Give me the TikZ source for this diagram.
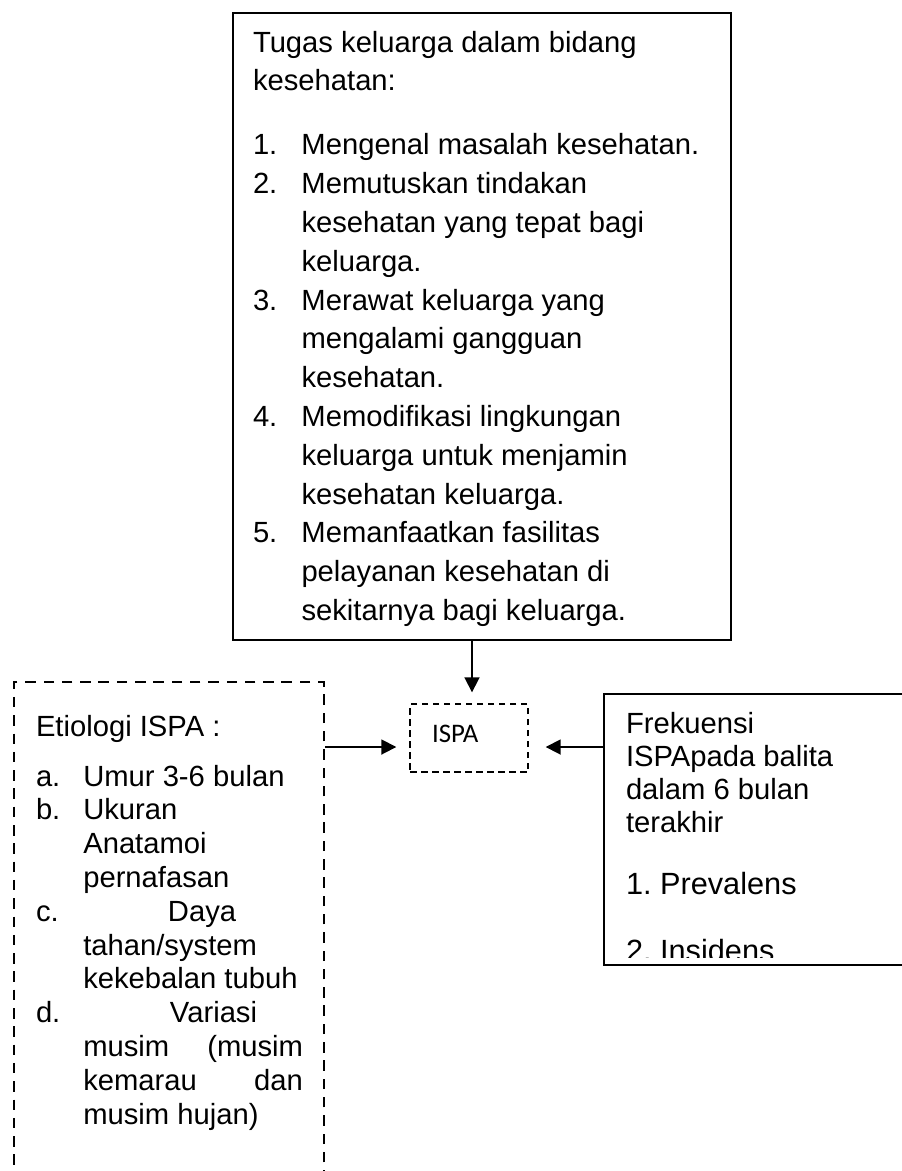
\documentclass[tikz,border=0pt]{standalone}
\usepackage{fontspec}
\setmainfont{Liberation Sans}
\newfontfamily\calibrifont{Carlito}
\usetikzlibrary{arrows.meta}
\frenchspacing
\newcommand\itmrow[2]{\par\hangindent=48.5pt\hangafter=1\noindent\makebox[48.5pt][l]{#1}#2\par}
\newcommand\lrow[2]{\par\noindent\makebox[47.3pt][l]{#1}#2\par}
\begin{document}
\begin{tikzpicture}[x=1pt,y=-1pt,
  solidbox/.style={draw, line width=1.8pt, inner sep=0pt, rectangle},
  dashbox/.style={draw, line width=2pt, dash pattern=on 10.5pt off 7.8pt, inner sep=0pt, rectangle},
  smalldash/.style={draw, line width=1.4pt, dash pattern=on 6.5pt off 4.5pt, inner sep=0pt, rectangle},
  txt/.style={inner sep=0pt, outer sep=0pt, anchor=base west, align=left},
  arr/.style={line width=1.8pt, -{Triangle[length=15pt,width=15pt]}}]
\useasboundingbox (0,0) rectangle (902,1171);
\clip (0,0) rectangle (902,1171);
% boxes
\node[solidbox, minimum width=498pt, minimum height=627pt] (tugas) at (482,326.5) {};
\node[smalldash, minimum width=118pt, minimum height=68pt] (ispa) at (469,738) {};
\node[dashbox, minimum width=310pt, minimum height=518pt] (etio) at (169,941) {};
\node[solidbox, minimum width=326pt, minimum height=271pt] (frek) at (767,829.5) {};
% texts
\node[txt] (tugastxt) at (253,52) {\begin{minipage}[t]{470pt}\fontsize{29.2pt}{38.8pt}\selectfont\raggedright\parskip=0pt\parindent=0pt
Tugas keluarga dalam bidang\\
kesehatan:\par
\vspace{25.2pt}
\itmrow{1.}{Mengenal masalah kesehatan.}
\itmrow{2.}{Memutuskan tindakan\newline kesehatan yang tepat bagi\newline keluarga.}
\itmrow{3.}{Merawat keluarga yang\newline mengalami gangguan\newline kesehatan.}
\itmrow{4.}{Memodifikasi lingkungan\newline keluarga untuk menjamin\newline kesehatan keluarga.}
\itmrow{5.}{Memanfaatkan fasilitas\newline pelayanan kesehatan di\newline sekitarnya bagi keluarga.}
\end{minipage}};
\node[txt] (ispatxt) at (432,742) {\calibrifont\fontsize{26.8pt}{32pt}\selectfont ISPA};
\node[txt] (etiotxt) at (36,736) {\begin{minipage}[t]{280pt}\fontsize{29.2pt}{33.8pt}\selectfont\raggedright\parskip=0pt\parindent=0pt
Etiologi ISPA :\par
\vspace{16.2pt}
\lrow{a.}{Umur 3-6 bulan}
\lrow{b.}{Ukuran}
\lrow{}{Anatamoi}
\lrow{}{pernafasan}
\lrow{c.}{\hspace*{84.7pt}Daya}
\lrow{}{tahan/system}
\lrow{}{kekebalan tubuh}
\lrow{d.}{\hspace*{86.7pt}Variasi}
\lrow{}{\hbox to 219.7pt{musim\hfill(musim}}
\lrow{}{\hbox to 219.7pt{kemarau\hfill dan}}
\lrow{}{musim hujan)}
\end{minipage}};
\begin{scope}
\clip (604,694) rectangle (902,957);
\node[txt] (frektxt) at (626,733) {\begin{minipage}[t]{270pt}\fontsize{29.2pt}{33.3pt}\selectfont\raggedright\parskip=0pt\parindent=0pt
Frekuensi\\
ISPApada balita\\
dalam 6 bulan\\
terakhir\par
\fontsize{30.7pt}{35pt}\selectfont
\vspace{27pt}
1. Prevalens\par
\vspace{32pt}
2. Insidens\par
\end{minipage}};
\end{scope}
% connectors
\coordinate (aT) at ([xshift=3pt]ispa.north);
\draw[arr, shorten >=11pt] (tugas.south -| aT) -- (aT);
\coordinate (aL) at ([yshift=-9pt]ispa.west);
\draw[arr, shorten >=13pt] (etio.east |- aL) -- (aL);
\coordinate (aR) at ([yshift=-9pt]ispa.east);
\draw[arr, shorten >=17pt] (frek.west |- aR) -- (aR);
\end{tikzpicture}
\end{document}
